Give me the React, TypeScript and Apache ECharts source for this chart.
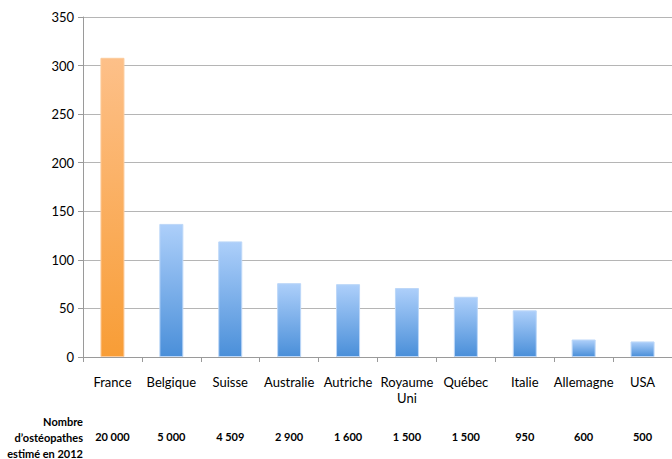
import React, { useEffect, useRef } from "react";
import * as echarts from "echarts";

const categories = ["France", "Belgique", "Suisse", "Australie", "Autriche", "Royaume\nUni", "Québec", "Italie", "Allemagne", "USA"];
const values = [308, 137, 119, 76, 75, 71, 62, 48, 18, 16];
const counts = ["20 000", "5 000", "4 509", "2 900", "1 600", "1 500", "1 500", "950", "600", "500"];
const yTicks = { min: 0, max: 350, interval: 50 };
const rowLabel = "Nombre\nd’ostéopathes\nestimé en 2012";

const FONT = "Lato, 'Liberation Sans', sans-serif";

export default function App() {
  const ref = useRef<HTMLDivElement>(null);
  useEffect(() => {
    if (!ref.current) return;
    const chart = echarts.init(ref.current, null, { renderer: "svg" });
    const orange = new echarts.graphic.LinearGradient(0, 0, 0, 1, [
      { offset: 0, color: "#FDC089" },
      { offset: 1, color: "#F89D36" },
    ]);
    const blue = new echarts.graphic.LinearGradient(0, 0, 0, 1, [
      { offset: 0, color: "#ADCFFA" },
      { offset: 1, color: "#4A8FD9" },
    ]);
    chart.setOption({
      animation: false,
      backgroundColor: "#ffffff",
      grid: { left: 83, top: 17, width: 600, bottom: 102 },
      xAxis: [
        {
          type: "category",
          data: categories,
          position: "bottom",
          axisLine: { lineStyle: { color: "#9a9a9a", width: 1 } },
          axisTick: { show: true, length: 5, lineStyle: { color: "#9a9a9a" } },
          axisLabel: {
            interval: 0,
            margin: 17,
            color: "#000",
            fontSize: 13,
            fontFamily: FONT,
            lineHeight: 16,
          },
        },
        {
          type: "category",
          data: counts,
          position: "bottom",
          offset: 72,
          axisLine: { show: false },
          axisTick: { show: false },
          axisLabel: {
            interval: 0,
            margin: 2,
            color: "#000",
            fontSize: 11,
            fontWeight: "bold",
            fontFamily: FONT,
          },
        },
      ],
      yAxis: {
        type: "value",
        min: yTicks.min,
        max: yTicks.max,
        interval: yTicks.interval,
        axisLine: { show: true, lineStyle: { color: "#9a9a9a" } },
        axisTick: { show: true, length: 5, lineStyle: { color: "#9a9a9a" } },
        axisLabel: { color: "#000", fontSize: 13, fontFamily: FONT, margin: 9 },
        splitLine: { lineStyle: { color: "#b5b5b5", width: 1 } },
      },
      series: [
        {
          type: "bar",
          xAxisIndex: 0,
          barWidth: 24,
          data: values.map((v, i) => ({
            value: v,
            itemStyle: {
              color: i === 0 ? orange : blue,
              borderColor: i === 0 ? "#FCCB9C" : "#BCD7F8",
              borderWidth: 1,
            },
          })),
        },
      ],
      graphic: [
        {
          type: "text",
          x: 83,
          y: 413,
          style: {
            text: rowLabel,
            align: "right",
            verticalAlign: "top",
            fontSize: 11,
            fontWeight: "bold",
            fontFamily: FONT,
            fill: "#000",
            lineHeight: 16,
          },
        },
      ],
    });
    return () => chart.dispose();
  }, []);
  return <div ref={ref} style={{ width: 672, height: 459, position: "absolute", left: 0, top: 0 }} />;
}
